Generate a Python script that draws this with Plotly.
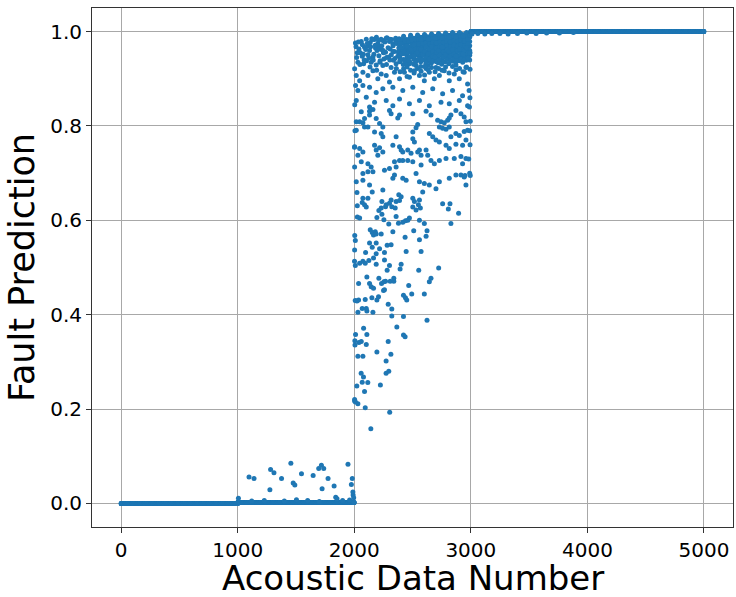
import numpy as np
import plotly.graph_objects as go

# ---- values --------------------------------------------------------------
N_SAMPLES = 5000
HEALTHY_LEVEL = 0.0          # samples 0-999
EARLY_LEVEL = 0.002          # samples 1000-1999 (baseline)
FAULT_LEVEL = 1.0            # samples 3000-4999

# small excursions in the 1000-1999 segment
early_x = [1006, 1097, 1140, 1282, 1311, 1276, 1376, 1456, 1476, 1490, 1547, 1647,
           1695, 1718, 1738, 1724, 1775, 1827, 1946, 1975, 1983, 1228, 1504, 1841,
           1852, 1990, 1995, 1988, 1120, 1400, 1600, 1700, 1900, 1960]
early_y = [0.011, 0.056, 0.053, 0.072, 0.065, 0.029, 0.053, 0.085, 0.043, 0.039, 0.063, 0.059,
           0.074, 0.081, 0.074, 0.031, 0.053, 0.037, 0.083, 0.040, 0.053, 0.006, 0.008, 0.013,
           0.010, 0.018, 0.012, 0.024, 0.005, 0.005, 0.006, 0.004, 0.006, 0.007]

# transition segment 2000-2999: scattered predictions
trans_x = [
    2108, 2037, 2131, 2145, 2165, 2211, 2234, 2254, 2268, 2308, 2339, 2339, 2467, 2658, 2644,
    2251, 2259, 2208, 2194, 2151, 2094, 2037, 2023, 2068, 2103, 2108, 2160, 2031, 2291, 2322,
    2422, 2439, 2450, 2493, 2601, 2322, 2422, 2624, 2365, 2080, 2011, 2108, 2422, 2436, 2060,
    2040, 2006, 2103, 2291, 2194, 2314, 2031, 2074,
    2273, 2059, 2079, 2273, 2296, 2068, 2116, 2022, 2224, 2088, 2003, 2031, 2094, 2304, 2142,
    2023, 2074, 2117, 2026, 2068, 2088, 2103, 2154, 2237, 2231, 2211, 2268, 2274, 2302, 2322,
    2351, 2359, 2382, 2402, 2388, 2316, 2502, 2516, 2502, 2559, 2550, 2567, 2530, 2587, 2758,
    2821, 2807, 2895, 2026, 2046, 2194, 2237, 2254, 2296, 2359, 2379, 2416, 2439, 2459, 2473,
    2559, 2601, 2829, 2004, 2009, 2137, 2154, 2180, 2165, 2188, 2231, 2331, 2436, 2510, 2624,
    2616, 2559, 2131, 2154, 2188, 2217, 2259, 2282, 2316, 2003, 2097, 2188, 2445, 2573, 2002,
    2009, 2046, 2074, 2094, 2125, 2165, 2188, 2259, 2302, 2402, 2282, 2393, 2553, 2724,
    2017, 2046, 2074, 2088, 2060, 2131, 2160, 2131, 2188, 2217, 2245, 2017, 2088, 2117, 2174,
    2231, 2245, 2302, 2316, 2388, 2373, 2502, 2616, 2658, 2715, 2744, 2772, 2801, 2815, 2829,
    2872, 2915, 2943, 2958, 2730, 2758, 2787, 2815, 2872, 2901, 2943, 2972, 2958, 2544, 2530,
    2502, 2359, 2502, 2516, 2644, 2673, 2701, 2730, 2829, 2787, 2815, 2872, 2929, 2003, 2046,
    2074, 2031, 2174, 2188, 2217, 2245, 2202, 2331, 2388, 2402, 2416, 2459, 2487, 2544, 2559,
    2573, 2616, 2630, 2003, 2060, 2117, 2145, 2160, 2117, 2074, 2259, 2302, 2345, 2359, 2388,
    2416, 2459, 2502, 2573, 2658, 2687, 2730, 2787, 2858, 2915, 2929, 2958, 2017, 2074, 2131,
    2245, 2331, 2345, 2416, 2445, 2530, 2559, 2601, 2644, 2701, 2730, 2815, 2872, 2915, 2943,
    2958,
    2003, 2017, 2046, 2011, 2031, 2074, 2117, 2160, 2202, 2231, 2274, 2302, 2345, 2388, 2430,
    2473, 2516, 2559, 2601, 2644, 2687, 2730, 2772, 2815, 2858, 2901, 2943, 2972, 2074, 2131,
    2188, 2245, 2331, 2416, 2502, 2587, 2673, 2758, 2843, 2929, 2017, 2103, 2174, 2274, 2388,
    2473, 2559, 2644, 2744, 2815, 2901, 2972, 2331, 2131,
    2530, 2701, 2872, 2958, 2473, 2616,
    2985, 2992, 2988, 2995, 2990, 2993, 2982, 2990, 2995, 2950,
    2004, 2006, 2002, 2008, 2005, 2003, 2010,
    2060, 2103, 2137, 2174, 2202, 2245, 2274, 2302, 2331, 2359, 2040, 2088, 2131, 2182, 2231,
    2268, 2308, 2345, 2382, 2068, 2117, 2160, 2211, 2254, 2296, 2336, 2373, 2031, 2080, 2145,
    2188, 2245, 2316, 2359, 2010, 2025, 2150, 2190, 2230, 2280, 2320, 2355, 2120, 2215,
    2015, 2035, 2052, 2070, 2085, 2098, 2112, 2125, 2140, 2155, 2168, 2180, 2195, 2208, 2222,
    2236, 2250, 2262, 2277, 2290, 2305, 2318, 2333, 2348, 2362, 2377, 2020, 2048, 2078, 2105,
    2135, 2163, 2192, 2220, 2248, 2276, 2305, 2333, 2361, 2385,
]
trans_y = [
    0.480, 0.466, 0.466, 0.459, 0.456, 0.477, 0.466, 0.470, 0.471, 0.471, 0.477, 0.471, 0.462, 0.477, 0.470,
    0.451, 0.453, 0.438, 0.431, 0.436, 0.432, 0.431, 0.429, 0.413, 0.413, 0.408, 0.405, 0.405, 0.422, 0.412,
    0.441, 0.436, 0.431, 0.444, 0.444, 0.397, 0.396, 0.388, 0.374, 0.371, 0.358, 0.358, 0.357, 0.353, 0.343,
    0.341, 0.336, 0.337, 0.343, 0.321, 0.316, 0.312, 0.312,
    0.302, 0.276, 0.268, 0.276, 0.280, 0.257, 0.256, 0.249, 0.251, 0.237, 0.217, 0.211, 0.203, 0.193, 0.158,
    0.659, 0.647, 0.647, 0.631, 0.638, 0.633, 0.628, 0.660, 0.640, 0.626, 0.621, 0.629, 0.633, 0.636, 0.629,
    0.626, 0.640, 0.654, 0.650, 0.642, 0.643, 0.647, 0.640, 0.628, 0.643, 0.633, 0.626, 0.622, 0.660, 0.635,
    0.635, 0.624, 0.615, 0.607, 0.605, 0.606, 0.613, 0.601, 0.592, 0.608, 0.594, 0.596, 0.599, 0.600, 0.605,
    0.600, 0.593, 0.593, 0.568, 0.557, 0.580, 0.574, 0.576, 0.569, 0.571, 0.571, 0.576, 0.564, 0.578, 0.578,
    0.566, 0.559, 0.552, 0.543, 0.552, 0.540, 0.532, 0.547, 0.548, 0.537, 0.532, 0.529, 0.534, 0.534, 0.513,
    0.504, 0.509, 0.513, 0.509, 0.515, 0.520, 0.507, 0.516, 0.504, 0.507, 0.494, 0.497, 0.494, 0.499,
    0.809, 0.809, 0.807, 0.816, 0.830, 0.831, 0.835, 0.823, 0.816, 0.805, 0.798, 0.791, 0.798, 0.798, 0.787,
    0.784, 0.777, 0.833, 0.826, 0.823, 0.817, 0.826, 0.831, 0.823, 0.812, 0.809, 0.807, 0.812, 0.817, 0.823,
    0.833, 0.826, 0.819, 0.809, 0.798, 0.795, 0.793, 0.798, 0.784, 0.780, 0.788, 0.791, 0.770, 0.803, 0.796,
    0.787, 0.777, 0.773, 0.766, 0.784, 0.777, 0.770, 0.766, 0.777, 0.759, 0.752, 0.761, 0.759, 0.756, 0.752,
    0.745, 0.738, 0.759, 0.749, 0.754, 0.745, 0.738, 0.759, 0.756, 0.749, 0.745, 0.749, 0.742, 0.745, 0.749,
    0.738, 0.749, 0.738, 0.713, 0.724, 0.720, 0.713, 0.703, 0.703, 0.699, 0.706, 0.710, 0.724, 0.713, 0.727,
    0.727, 0.727, 0.724, 0.717, 0.727, 0.720, 0.727, 0.731, 0.731, 0.735, 0.720, 0.731, 0.682, 0.685, 0.675,
    0.664, 0.689, 0.696, 0.689, 0.685, 0.699, 0.682, 0.678, 0.675, 0.667, 0.682, 0.689, 0.696, 0.696, 0.692,
    0.675,
    0.921, 0.907, 0.896, 0.886, 0.875, 0.914, 0.907, 0.917, 0.900, 0.910, 0.907, 0.893, 0.914, 0.900, 0.914,
    0.903, 0.917, 0.907, 0.896, 0.914, 0.900, 0.907, 0.917, 0.896, 0.910, 0.900, 0.914, 0.889, 0.886, 0.882,
    0.871, 0.879, 0.882, 0.875, 0.882, 0.871, 0.879, 0.868, 0.875, 0.864, 0.854, 0.861, 0.850, 0.854, 0.857,
    0.847, 0.854, 0.843, 0.850, 0.847, 0.854, 0.843, 0.843, 0.840,
    0.928, 0.924, 0.929, 0.924, 0.932, 0.922,
    0.875, 0.860, 0.840, 0.810, 0.790, 0.760, 0.730, 0.700, 0.695, 0.695,
    0.845, 0.790, 0.755, 0.430, 0.345, 0.220, 0.215,
    0.979, 0.984, 0.977, 0.983, 0.974, 0.981, 0.986, 0.979, 0.974, 0.981, 0.963, 0.967, 0.960, 0.965, 0.962,
    0.956, 0.963, 0.958, 0.965, 0.948, 0.951, 0.946, 0.949, 0.942, 0.946, 0.939, 0.948, 0.935, 0.932, 0.935,
    0.929, 0.928, 0.924, 0.932, 0.976, 0.955, 0.985, 0.988, 0.984, 0.987, 0.983, 0.986, 0.970, 0.968,
    0.968, 0.978, 0.955, 0.972, 0.940, 0.962, 0.975, 0.944, 0.968, 0.983, 0.952, 0.971, 0.960, 0.981, 0.938,
    0.970, 0.955, 0.978, 0.945, 0.966, 0.984, 0.951, 0.970, 0.943, 0.975, 0.957, 0.945, 0.930, 0.952, 0.938,
    0.925, 0.940, 0.918, 0.935, 0.960, 0.930, 0.940, 0.958, 0.922, 0.985,
]

# dense band near the top of the transition segment: column positions and values
band_x = [2390, 2420, 2450, 2480, 2510, 2540, 2570, 2600, 2630, 2660, 2690,
          2720, 2750, 2780, 2810, 2840, 2870, 2900, 2930, 2960, 2990,
          2405, 2435, 2465, 2495, 2525, 2555, 2585, 2615, 2645, 2675,
          2705, 2735, 2765, 2795, 2825, 2855, 2885, 2915, 2945, 2975,
          2393, 2423, 2453, 2483, 2513, 2543, 2573, 2603, 2633, 2663, 2693,
          2723, 2753, 2783, 2813, 2843, 2873, 2903, 2933, 2963, 2993]
band_y = [
    [0.982, 0.971, 0.958, 0.947, 0.936],
    [0.985, 0.976, 0.966, 0.953, 0.941, 0.930],
    [0.983, 0.973, 0.962, 0.951, 0.944, 0.932],
    [0.987, 0.978, 0.968, 0.957, 0.946, 0.935],
    [0.986, 0.977, 0.965, 0.955, 0.942, 0.931],
    [0.989, 0.980, 0.970, 0.961, 0.950, 0.939],
    [0.988, 0.978, 0.967, 0.957, 0.947, 0.936, 0.926],
    [0.990, 0.981, 0.972, 0.963, 0.952, 0.941],
    [0.989, 0.979, 0.969, 0.958, 0.948, 0.937, 0.928],
    [0.991, 0.982, 0.973, 0.964, 0.954, 0.944, 0.933],
    [0.990, 0.980, 0.970, 0.960, 0.951, 0.940],
    [0.992, 0.983, 0.974, 0.965, 0.955, 0.945, 0.934],
    [0.991, 0.982, 0.972, 0.962, 0.952, 0.941, 0.931],
    [0.993, 0.984, 0.975, 0.966, 0.956, 0.946, 0.936],
    [0.992, 0.983, 0.973, 0.963, 0.953, 0.943, 0.932],
    [0.994, 0.985, 0.976, 0.967, 0.957, 0.947, 0.937],
    [0.993, 0.984, 0.974, 0.964, 0.954, 0.944, 0.934],
    [0.995, 0.986, 0.977, 0.968, 0.958, 0.948, 0.938],
    [0.994, 0.985, 0.975, 0.965, 0.955, 0.945, 0.935],
    [0.995, 0.987, 0.978, 0.969, 0.959, 0.949, 0.939],
    [0.996, 0.988, 0.979, 0.970, 0.960, 0.950, 0.940],
    [0.978, 0.966, 0.953],
    [0.980, 0.969, 0.957, 0.938],
    [0.979, 0.967, 0.956, 0.939],
    [0.982, 0.972, 0.960, 0.949],
    [0.984, 0.974, 0.963, 0.952, 0.935],
    [0.983, 0.973, 0.963, 0.952, 0.942],
    [0.985, 0.975, 0.962, 0.951, 0.940],
    [0.986, 0.976, 0.967, 0.957, 0.945, 0.933],
    [0.984, 0.974, 0.963, 0.953, 0.942],
    [0.987, 0.977, 0.968, 0.958, 0.948, 0.937],
    [0.986, 0.976, 0.965, 0.955, 0.945, 0.936],
    [0.988, 0.978, 0.969, 0.959, 0.950, 0.939],
    [0.987, 0.977, 0.967, 0.957, 0.946, 0.936],
    [0.989, 0.979, 0.970, 0.961, 0.951, 0.941],
    [0.988, 0.978, 0.968, 0.958, 0.948, 0.938],
    [0.990, 0.980, 0.971, 0.962, 0.952, 0.942],
    [0.989, 0.979, 0.969, 0.959, 0.949, 0.939],
    [0.991, 0.981, 0.972, 0.962, 0.952, 0.942],
    [0.990, 0.980, 0.970, 0.960, 0.950, 0.941],
    [0.992, 0.983, 0.973, 0.964, 0.954, 0.944],
    [0.975, 0.940, 0.915],
    [0.990, 0.958, 0.921],
    [0.969, 0.925, 0.905],
    [0.992, 0.962, 0.918],
    [0.972, 0.948, 0.912],
    [0.993, 0.955, 0.922],
    [0.983, 0.962, 0.916],
    [0.994, 0.958, 0.926, 0.908],
    [0.984, 0.953, 0.919],
    [0.995, 0.968, 0.924],
    [0.986, 0.946, 0.915],
    [0.996, 0.960, 0.922],
    [0.987, 0.967, 0.918],
    [0.997, 0.951, 0.925],
    [0.988, 0.958, 0.912],
    [0.998, 0.962, 0.926],
    [0.989, 0.948, 0.919],
    [0.998, 0.963, 0.922],
    [0.990, 0.952, 0.915],
    [0.998, 0.966, 0.925],
    [0.993, 0.955, 0.920],
]

# slight dips just after the transition
late_x = [3010, 3060, 3120, 3180, 3250, 3320, 3400, 3480, 3560, 3650, 3760, 3880]
late_y = [0.995, 0.996, 0.995, 0.996, 0.996, 0.995, 0.996, 0.997, 0.996, 0.997, 0.997, 0.998]

X_TICKS = [0, 1000, 2000, 3000, 4000, 5000]
Y_TICKS = [0.0, 0.2, 0.4, 0.6, 0.8, 1.0]
X_TITLE = "Acoustic Data Number"
Y_TITLE = "Fault Prediction"

# ---- assemble the series ---------------------------------------------------
idx = np.arange(N_SAMPLES)
healthy = idx[idx < 1000]
early = idx[(idx >= 1000) & (idx < 2000)]
fault = idx[idx >= 3000]

bx, by = [], []
for xc, col in zip(band_x, band_y):
    bx.extend([xc] * len(col))
    by.extend(col)

xs = np.concatenate([healthy, early, early_x, trans_x, bx, fault, late_x])
ys = np.concatenate([
    np.full(len(healthy), HEALTHY_LEVEL),
    np.full(len(early), EARLY_LEVEL),
    early_y, trans_y, by,
    np.full(len(fault), FAULT_LEVEL),
    late_y,
])

fig = go.Figure()
fig.add_trace(go.Scatter(
    x=xs, y=ys, mode="markers",
    marker=dict(color="#1f77b4", size=5, line=dict(width=0)),
    showlegend=False, hoverinfo="skip",
))

axis_common = dict(
    showline=True, linecolor="#333333", linewidth=1, mirror=True,
    ticks="outside", ticklen=5, tickcolor="#333333", tickwidth=1,
    showgrid=True, gridcolor="#a8a8a8", gridwidth=1, zeroline=False,
    tickfont=dict(family="DejaVu Sans", size=20, color="black"),
)

fig.update_layout(
    width=736, height=597,
    margin=dict(l=92, r=3, t=8, b=70),
    paper_bgcolor="white", plot_bgcolor="white",
    xaxis=dict(
        range=[-250, 5249], tickvals=X_TICKS,
        ticktext=[str(v) for v in X_TICKS],
        **axis_common,
    ),
    yaxis=dict(
        range=[-0.05, 1.05], tickvals=Y_TICKS,
        ticktext=[f"{v:.1f}" for v in Y_TICKS],
        title=dict(text=Y_TITLE, standoff=4,
                   font=dict(family="DejaVu Sans", size=35, color="black")),
        **axis_common,
    ),
)

# x-axis title placed just below the tick labels
fig.add_annotation(
    text=X_TITLE, xref="paper", yref="paper", x=0.5, y=0,
    xanchor="center", yanchor="top", yshift=-29, showarrow=False,
    font=dict(family="DejaVu Sans", size=34, color="black"),
)

fig.write_html("out.html")
